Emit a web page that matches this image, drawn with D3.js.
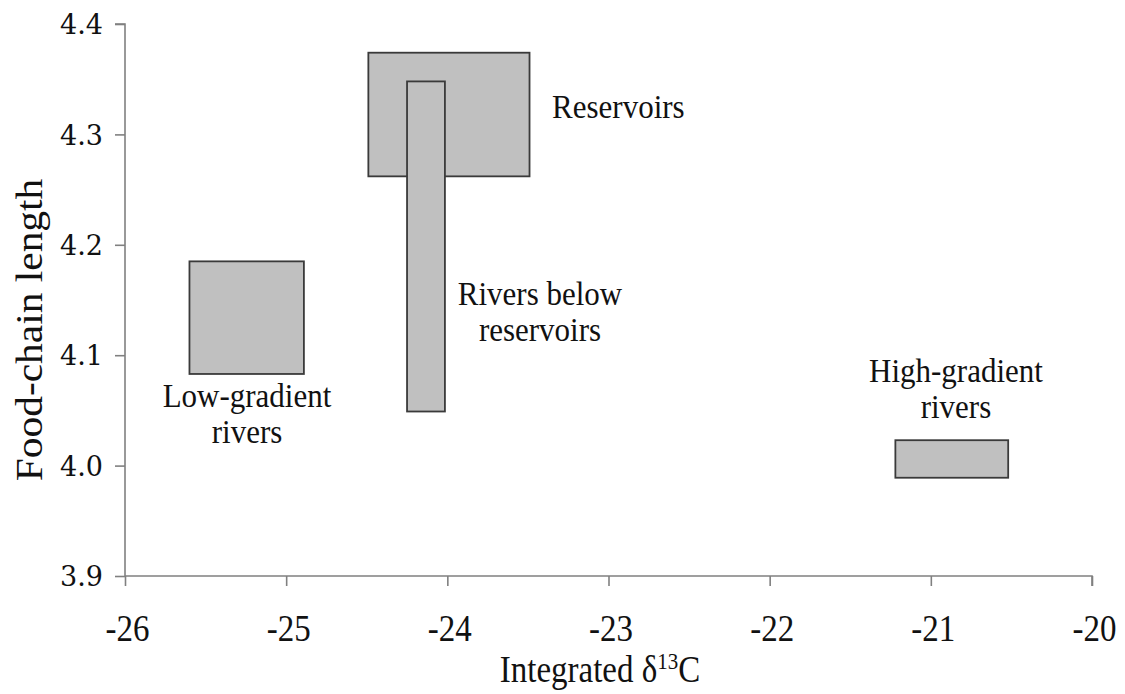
<!DOCTYPE html>
<html>
<head>
<meta charset="utf-8">
<script src="https://cdn.jsdelivr.net/npm/d3@7"></script>
<style>
  body { margin: 0; background: #fff; }
  svg { display: block; }
</style>
</head>
<body>
<div class="chart"></div>
<script>
// boxes: ranges of integrated d13C (x) and food-chain length (y)
const groups = ["Reservoirs", "Rivers below reservoirs", "Low-gradient rivers", "High-gradient rivers"]
const xLow  = [-24.49, -24.25, -25.60, -21.22]
const xHigh = [-23.49, -24.015, -24.89, -20.52]
const yLow  = [4.262, 4.049, 4.083, 3.989]
const yHigh = [4.374, 4.348, 4.185, 4.023]
const labelLines = [["Reservoirs"], ["Rivers below", "reservoirs"], ["Low-gradient", "rivers"], ["High-gradient", "rivers"]]

const xTicks = [-26, -25, -24, -23, -22, -21, -20]
const yTicks = [3.9, 4.0, 4.1, 4.2, 4.3, 4.4]

const W = 1125, H = 694
const stretch = 1.12  // original picture is a bit taller than wide
const serif = "'Liberation Serif', 'Times New Roman', serif"

const svg = d3.select(".chart").append("svg").attr("width", W).attr("height", H)
  .style("font-family", serif)

const x = d3.scaleLinear().domain([-26, -20]).range([125, 1092])
const y = d3.scaleLinear().domain([3.9, 4.4]).range([576, 24])

// axes
const axisColor = "#808080"
const gx = svg.append("g").attr("transform", "translate(0," + y(3.9) + ")")
  .call(d3.axisBottom(x).tickValues(xTicks).tickSize(10).tickFormat(d => String(d)))
const gy = svg.append("g").attr("transform", "translate(" + x(-26) + ",0)")
  .call(d3.axisLeft(y).tickValues(yTicks).tickSize(10).tickFormat(d3.format(".1f")))

gx.select(".domain").attr("d", "M" + x(-26) + ",0H" + x(-20) + "V10")
gy.select(".domain").attr("d", "M-10," + y(4.4) + "H0V" + y(3.9))
svg.selectAll(".domain, .tick line").attr("stroke", axisColor).attr("stroke-width", 1.6)
svg.selectAll(".tick text").attr("fill", "#111")

gx.selectAll(".tick text")
  .style("font-family", serif)
  .style("font-size", "33px")
  .attr("y", 0).attr("dy", 0)
  .attr("transform", "translate(2,65) scale(1," + stretch + ")")
gy.selectAll(".tick text")
  .style("font-family", "'DejaVu Serif', serif")
  .style("font-size", "27px")
  .attr("x", -22).attr("dy", "0.36em")

// boxes
const boxes = groups.map((g, i) => ({ name: g, x0: xLow[i], x1: xHigh[i], y0: yLow[i], y1: yHigh[i] }))
svg.append("g").selectAll("rect").data(boxes).enter().append("rect")
  .attr("x", d => x(d.x0))
  .attr("y", d => y(d.y1))
  .attr("width", d => x(d.x1) - x(d.x0))
  .attr("height", d => y(d.y0) - y(d.y1))
  .attr("fill", "#c0c0c0")
  .attr("stroke", "#3a3a3a")
  .attr("stroke-width", 1.8)

// labels, placed in data units next to each box
const labelSpots = [
  { x: -23.35, y: 4.315, anchor: "start" },
  { x: -23.425, y: 4.1455, anchor: "middle" },
  { x: -25.243, y: 4.053, anchor: "middle" },
  { x: -20.844, y: 4.0757, anchor: "middle" }
]
const lineGap = 36
labelLines.forEach((lines, i) => {
  const s = labelSpots[i]
  lines.forEach((t, k) => {
    svg.append("text")
      .attr("transform", "translate(" + x(s.x) + "," + (y(s.y) + k * lineGap) + ") scale(1," + stretch + ")")
      .attr("text-anchor", s.anchor)
      .style("font-family", serif)
      .style("font-size", "31px")
      .attr("fill", "#111")
      .text(t)
  })
})

// axis titles
const xt = svg.append("text")
  .attr("transform", "translate(600,682) scale(1," + stretch + ")")
  .attr("text-anchor", "middle")
  .style("font-family", serif)
  .style("font-size", "33px")
  .attr("fill", "#111")
xt.append("tspan").text("Integrated \u03b4")
xt.append("tspan").style("font-size", "21px").attr("dy", -12).text("13")
xt.append("tspan").attr("dy", 12).text("C")

svg.append("text")
  .attr("transform", "translate(42,330) scale(1," + stretch + ") rotate(-90)")
  .attr("text-anchor", "middle")
  .style("font-family", serif)
  .style("font-size", "37px")
  .attr("fill", "#111")
  .text("Food-chain length")
</script>
</body>
</html>
